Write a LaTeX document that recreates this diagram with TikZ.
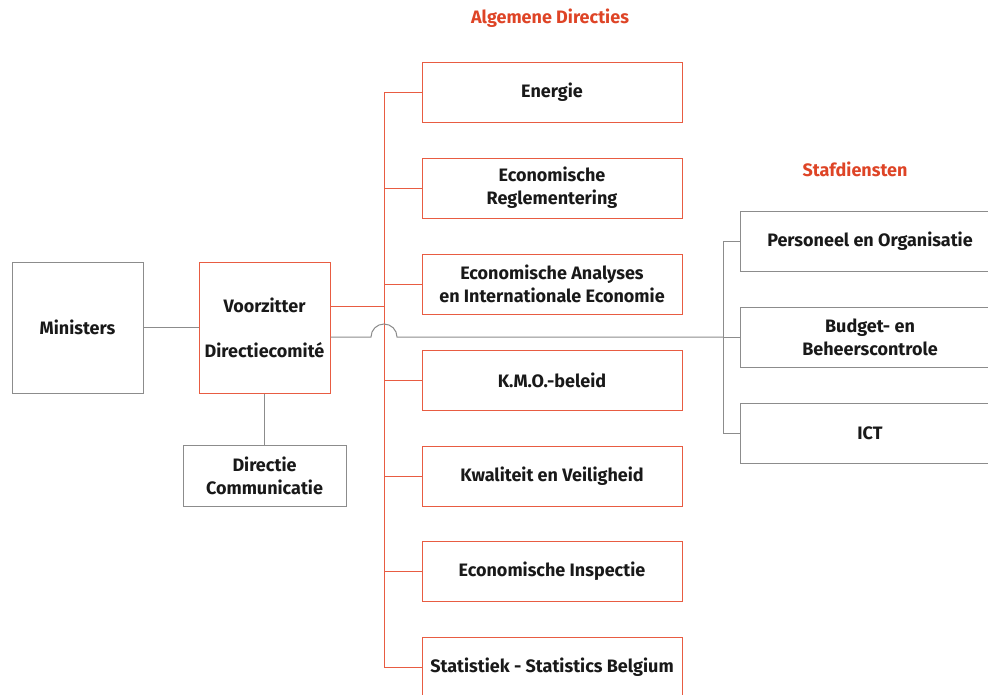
\documentclass[tikz,border=0pt]{standalone}
\usepackage{fontspec}
\setmainfont{Fira Sans}
\definecolor{hred}{RGB}{222,68,38}
\definecolor{bred}{RGB}{232,92,66}
\definecolor{lgray}{RGB}{140,140,140}
\definecolor{txt}{RGB}{25,25,25}
\tikzset{
  lbl/.style={font=\bfseries\fontsize{18}{23}\selectfont},
  gbox/.style={draw=lgray, line width=1pt, align=center, lbl, text=txt, inner sep=0pt},
  rbox/.style={draw=bred, line width=1pt, align=center, lbl, text=txt, inner sep=0pt, minimum width=260pt, minimum height=60pt},
  sbox/.style={draw=lgray, line width=1pt, align=center, lbl, text=txt, inner sep=0pt, minimum width=260pt, minimum height=60pt},
  gline/.style={draw=lgray, line width=1pt},
  rline/.style={draw=bred, line width=1pt},
  head/.style={text=hred, lbl}
}
\begin{document}
\begin{tikzpicture}[x=1pt,y=-1pt]
\useasboundingbox (0,0) rectangle (988,694);
\clip (0,0) rectangle (988,694);
% headings
\node[head] (hAD) at (550,18) {Algemene Directies};
\node[head] (hSD) at (855,169) {Stafdiensten};
% left
\node[gbox, minimum width=131pt, minimum height=131pt] (min) at (77.5,327.5) {Ministers};
\node[gbox, draw=bred, minimum width=131pt, minimum height=131pt] (voorz) at (264.5,327.5) {Voorzitter\\[22pt]Directiecomit\'e};
\node[gbox, minimum width=163pt, minimum height=61pt] (comm) at (264.5,475.5) {Directie\\Communicatie};
% red boxes
\node[rbox] (e1) at (552,92) {Energie};
\node[rbox] (e2) at (552,188) {Economische\\Reglementering};
\node[rbox] (e3) at (552,284) {Economische Analyses\\en Internationale Economie};
\node[rbox] (e4) at (552,380) {K.M.O.-beleid};
\node[rbox] (e5) at (552,476) {Kwaliteit en Veiligheid};
\node[rbox] (e6) at (552,571) {Economische Inspectie};
\node[rbox] (e7) at (552,667) {Statistiek - Statistics Belgium};
% staff boxes
\node[sbox] (s1) at (870,241) {Personeel en Organisatie};
\node[sbox] (s2) at (870,337) {Budget- en\\Beheerscontrole};
\node[sbox] (s3) at (870,433) {ICT};
% coordinates
\coordinate (tr) at (384,306);
\coordinate (hump) at (384,337);
\coordinate (st) at (723,337);
% gray connectors
\draw[gline] (min) -- (voorz);
\draw[gline] (voorz) -- (comm);
% red trunk
\draw[rline] (tr -| voorz.east) -- (tr);
\draw[rline] (e1.west -| tr) -- (e7.west -| tr);
\foreach \n in {e1,e2,e3,e4,e5,e6,e7} \draw[rline] (\n.west -| tr) -- (\n.west);
% gray link with hump
\draw[gline] (hump -| voorz.east) -- ([xshift=-13pt]hump) arc[start angle=180, end angle=0, radius=13pt] -- (s2.west -| st);
\draw[gline] (s1.west -| st) -- (s3.west -| st);
\foreach \n in {s1,s2,s3} \draw[gline] (\n.west -| st) -- (\n.west);
\end{tikzpicture}
\end{document}
